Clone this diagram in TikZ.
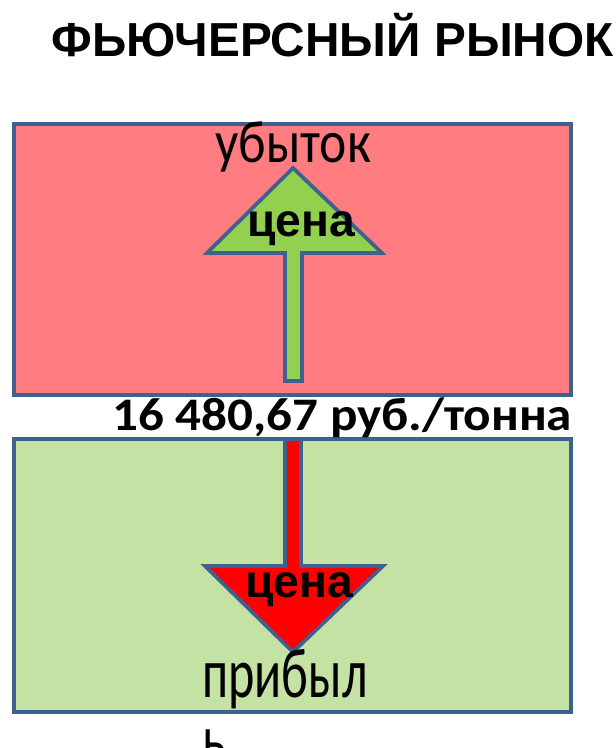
\documentclass[tikz,border=0pt]{standalone}
\usepackage{fontspec}
\setmainfont{Liberation Sans}
\newfontfamily\calfont{Carlito}
\definecolor{lossfill}{HTML}{FF7C80}
\definecolor{gainfill}{HTML}{C5E2A5}
\definecolor{edgeblue}{HTML}{3F6190}
\definecolor{upgreen}{HTML}{92D050}
\definecolor{downred}{HTML}{FF0000}
\tikzset{
  zonebox/.style={draw=edgeblue, line width=2.8pt},
  pricearrow/.style={draw=edgeblue, line width=2.8pt, line join=miter},
  lbl/.style={inner sep=0pt, anchor=base west, text=black},
}
\begin{document}
\begin{tikzpicture}[x=0.75pt, y=-0.75pt]
\useasboundingbox (0,0) rectangle (616,748);

% title
\node[lbl] (title) at (51,57)
  {\fontsize{35.8pt}{40pt}\selectfont\bfseries ФЬЮЧЕРСНЫЙ РЫНОК};

% two market zones
\path[zonebox, fill=lossfill] (14,124) rectangle (571,395) node[pos=0.5] (loss) {};
\path[zonebox, fill=gainfill] (14,439) rectangle (571,712) node[pos=0.5] (gain) {};

% price going up
\path[pricearrow, fill=upgreen]
  (285,381) -- (285,253) -- (207,253) -- (293,168) -- (382,253)
  -- (302,253) -- (302,381) -- cycle;

% price going down
\path[pricearrow, fill=downred]
  (285,439) -- (285,566) -- (205,566) -- (293,652) -- (383,566)
  -- (301,566) -- (301,439) -- cycle;

% labels
\node[lbl] (ubytok) at (215,163)
  {\scalebox{0.86}[1]{\calfont\fontsize{45pt}{48pt}\selectfont убыток}};
\node[lbl] (cena1) at (247,237)
  {\fontsize{34.7pt}{40pt}\selectfont\bfseries цена};
\node[lbl] (price) at (112,430)
  {\scalebox{1.096}[1]{\calfont\fontsize{35pt}{38pt}\selectfont\bfseries 16 480,67 руб./тонна}};
\node[lbl] (cena2) at (245,597)
  {\fontsize{34.7pt}{40pt}\selectfont\bfseries цена};
\node[lbl] (pribyl) at (202,697)
  {\scalebox{0.71}[1]{\calfont\fontsize{53pt}{54pt}\selectfont прибыл}};
\node[lbl] (pribyl2) at (202,763)
  {\scalebox{0.71}[1]{\calfont\fontsize{53pt}{54pt}\selectfont ь}};
\end{tikzpicture}
\end{document}
